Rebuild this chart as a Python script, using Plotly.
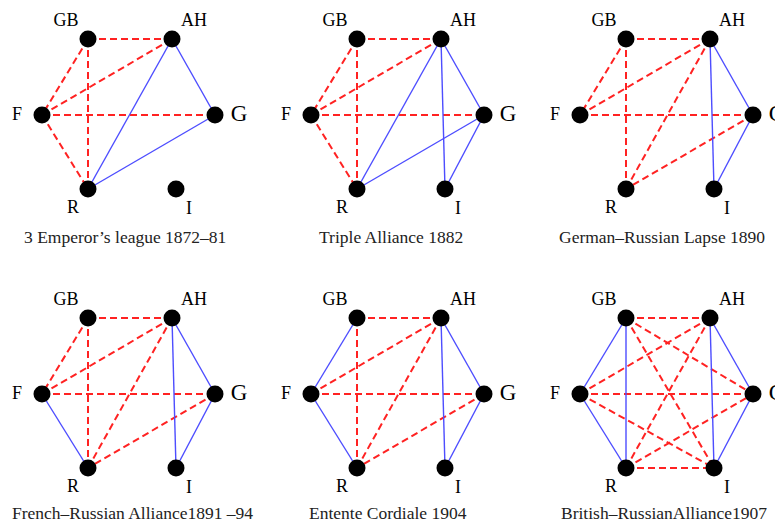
import plotly.graph_objects as go

# ---- data ----
panel_titles = [
    "3 Emperor\u2019s league 1872\u201381",
    "Triple Alliance 1882",
    "German\u2013Russian Lapse 1890",
    "French\u2013Russian Alliance1891 \u201394",
    "Entente Cordiale 1904",
    "British\u2013RussianAlliance1907",
]
countries = ["GB", "AH", "F", "G", "R", "I"]

alliances = [  # blue solid edges (friendly)
    [("AH", "R"), ("AH", "G"), ("G", "R")],
    [("AH", "R"), ("AH", "G"), ("AH", "I"), ("G", "R"), ("G", "I")],
    [("AH", "I"), ("AH", "G"), ("G", "I")],
    [("F", "R"), ("AH", "I"), ("AH", "G"), ("G", "I")],
    [("GB", "F"), ("F", "R"), ("AH", "I"), ("AH", "G"), ("G", "I")],
    [("GB", "F"), ("GB", "R"), ("F", "R"), ("AH", "I"), ("AH", "G"), ("G", "I")],
]
enmities = [  # red dashed edges (hostile)
    [("GB", "AH"), ("GB", "F"), ("GB", "R"), ("F", "AH"), ("F", "G"), ("F", "R")],
    [("GB", "AH"), ("GB", "F"), ("GB", "R"), ("F", "AH"), ("F", "G"), ("F", "R")],
    [("GB", "AH"), ("GB", "F"), ("GB", "R"), ("F", "AH"), ("F", "G"), ("AH", "R"), ("G", "R")],
    [("GB", "AH"), ("GB", "F"), ("GB", "R"), ("F", "AH"), ("F", "G"), ("AH", "R"), ("G", "R")],
    [("GB", "AH"), ("GB", "R"), ("F", "AH"), ("F", "G"), ("AH", "R"), ("G", "R")],
    [("GB", "AH"), ("GB", "G"), ("GB", "I"), ("F", "AH"), ("F", "G"), ("F", "I"),
     ("R", "AH"), ("R", "G"), ("R", "I")],
]

# ---- graph drawing layout (page pixels within a panel) ----
node_layout = {"F": (42, 115), "GB": (88, 39), "AH": (172, 39),
               "G": (215, 115), "R": (88, 189), "I": (176, 189)}
label_offset = {"GB": (-22, -18), "AH": (22, -18), "F": (-25, 0),
                "G": (24, 0), "R": (-15, 19), "I": (13, 20)}
label_size = {"GB": 18, "AH": 18, "F": 18, "G": 23, "R": 18, "I": 18}
col_off = [0, 269, 538]
row_off = [0, 279]
caption_y = [237, 513]
caption_dx = [-3.5, -6.5, -4.5, 3.5, -9.5, -2.5]

PAGE_W, PAGE_H = 783, 522
BODY_MARGIN = 8  # default page margin around the plot div
W, H = PAGE_W - BODY_MARGIN, PAGE_H - BODY_MARGIN
BLUE = "#4d4dff"
RED = "#ff2222"
FONT = "Liberation Serif, Times New Roman, serif"

fig = go.Figure()


def pos(k, name):
    c, r = k % 3, k // 3
    x, y = node_layout[name]
    return x + col_off[c], y + row_off[r]


def edge_xy(k, edges):
    xs, ys = [], []
    for a, b in edges:
        xa, ya = pos(k, a)
        xb, yb = pos(k, b)
        xs += [xa, xb, None]
        ys += [ya, yb, None]
    return xs, ys

for k in range(6):
    xs, ys = edge_xy(k, enmities[k])
    fig.add_trace(go.Scatter(x=xs, y=ys, mode="lines", hoverinfo="skip",
                             line=dict(color=RED, width=2, dash="7px,4px")))
    xs, ys = edge_xy(k, alliances[k])
    fig.add_trace(go.Scatter(x=xs, y=ys, mode="lines", hoverinfo="skip",
                             line=dict(color=BLUE, width=1.4)))

nx, ny, tx, ty, tt, ts = [], [], [], [], [], []
for k in range(6):
    for n in countries:
        x, y = pos(k, n)
        nx.append(x)
        ny.append(y)
        dx, dy = label_offset[n]
        tx.append(x + dx)
        ty.append(y + dy)
        tt.append(n)
        ts.append(label_size[n])

fig.add_trace(go.Scatter(x=nx, y=ny, mode="markers", hoverinfo="skip",
                         marker=dict(size=17, color="black", line=dict(width=0))))
fig.add_trace(go.Scatter(x=tx, y=ty, mode="text", text=tt, textposition="middle center",
                         cliponaxis=False, hoverinfo="skip",
                         textfont=dict(family=FONT, size=ts, color="black")))

for k, title in enumerate(panel_titles):
    c, r = k % 3, k // 3
    cx = (node_layout["F"][0] + node_layout["G"][0]) / 2 + col_off[c] + caption_dx[k]
    fig.add_annotation(x=cx, y=caption_y[r], text=title, showarrow=False,
                       xanchor="center", yanchor="middle",
                       font=dict(family=FONT, size=17.5, color="#222222"))

fig.update_layout(
    width=W, height=H, showlegend=False,
    margin=dict(l=0, r=0, t=0, b=0),
    paper_bgcolor="white", plot_bgcolor="white",
    xaxis=dict(range=[BODY_MARGIN, PAGE_W], visible=False, fixedrange=True),
    yaxis=dict(range=[PAGE_H, BODY_MARGIN], visible=False, fixedrange=True),
)

fig.write_html("out.html")
